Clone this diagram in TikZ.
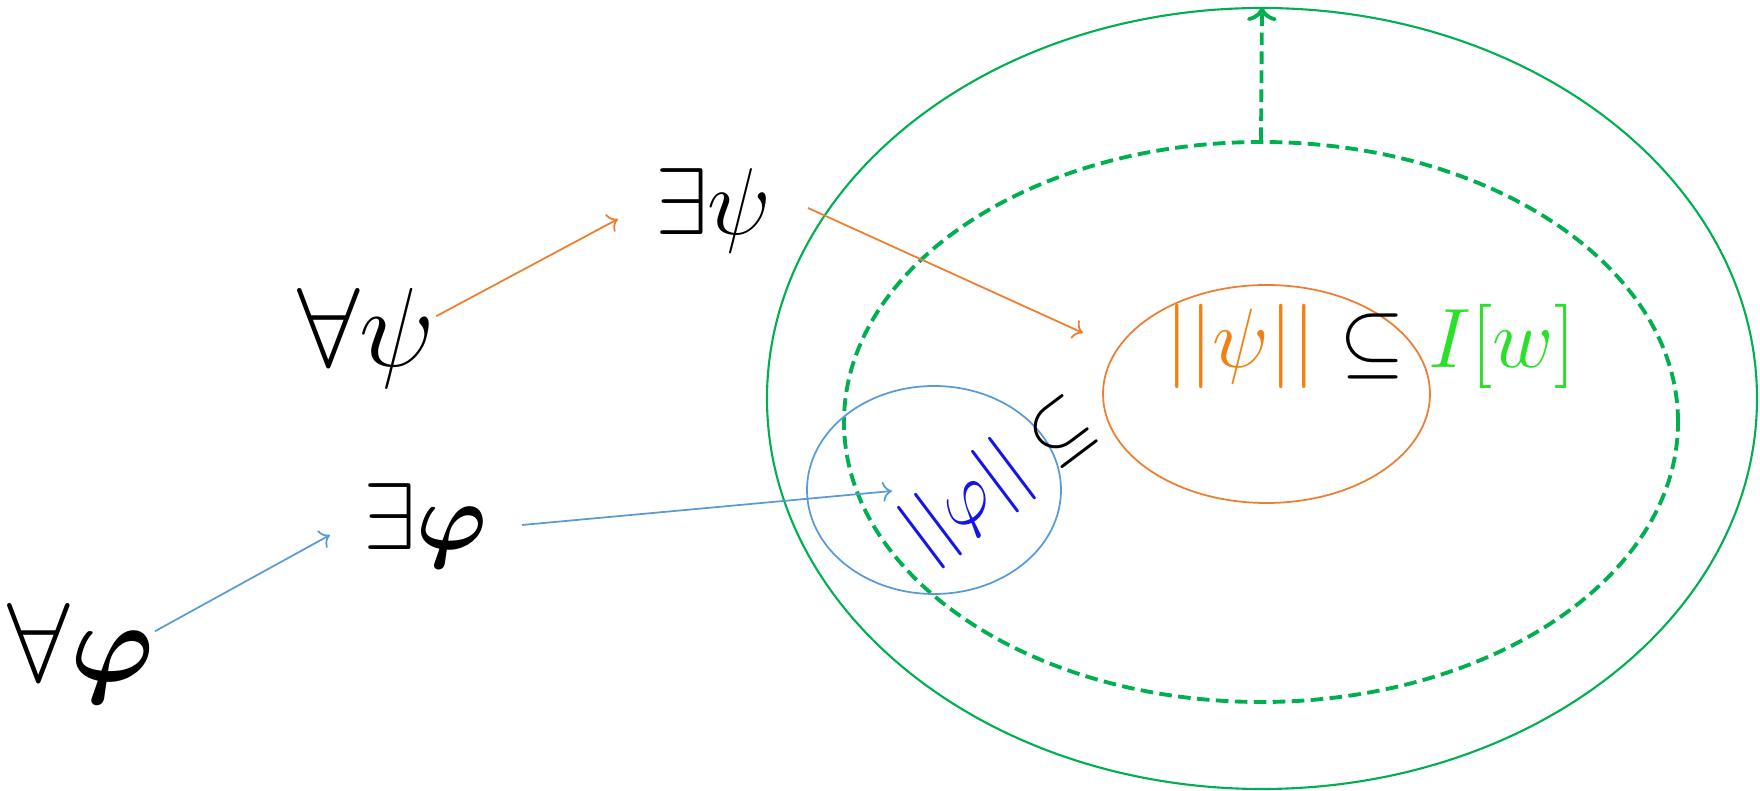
\RequirePackage{fix-cm}
\documentclass[tikz,border=0pt]{standalone}
\usepackage{amsmath}
\usepackage{xcolor}
\usepackage{tikz}
\usetikzlibrary{shapes.geometric,arrows.meta,positioning}

\definecolor{worldgreen}{RGB}{0,176,80}
\definecolor{psiorange}{RGB}{237,125,49}
\definecolor{phiblue}{RGB}{91,155,213}
\definecolor{psitext}{RGB}{240,130,20}
\definecolor{phitext}{RGB}{20,20,235}
\definecolor{wgreen}{RGB}{40,225,40}

\begin{document}
\begin{tikzpicture}[
  big/.style={inner sep=0pt, anchor=base, font=\fontsize{32}{38}\selectfont},
  mid/.style={inner sep=0pt, anchor=base, font=\fontsize{27}{32}\selectfont},
  region/.style={draw, ellipse, inner sep=0pt},
  arrowO/.style={->, draw=psiorange, line width=0.5pt},
  arrowB/.style={->, draw=phiblue, line width=0.5pt}
]
\useasboundingbox (0,0) rectangle (17.6,7.91);

% sets
\node[region, draw=worldgreen, line width=0.6pt, minimum width=9.9cm, minimum height=7.81cm] (world) at (12.62,3.925) {};
\node[region, draw=worldgreen, dashed, line width=1.1pt, dash pattern=on 3.6pt off 1.8pt, minimum width=8.34cm, minimum height=5.6cm] (frame) at (12.61,3.69) {};
\node[region, draw=psiorange, line width=0.5pt, minimum width=3.27cm, minimum height=2.18cm] (psiset) at (12.665,3.97) {};
\node[region, draw=phiblue, line width=0.5pt, minimum width=2.54cm, minimum height=2.08cm] (phiset) at (9.34,3.01) {};

\draw[->, draw=worldgreen, dashed, line width=1.1pt, dash pattern=on 3.6pt off 1.8pt] (frame.north) -- (world.north);

% formulas
\node[big] (apsi) at (3.665,4.24) {$\forall\psi$};
\node[mid] (epsi) at (7.135,5.56) {$\exists\psi$};
\node[big] (aphi) at (0.81,1.09) {$\forall\boldsymbol{\varphi}$};
\node[mid] (ephi) at (4.255,2.41) {$\exists\boldsymbol{\varphi}$};

\node[anchor=base west, inner sep=0pt, font=\fontsize{24}{29}\selectfont] (psiincl) at (11.65,4.23) {$\textcolor{psitext}{||\psi||}\subseteq\textcolor{wgreen}{I[w]}$};
\node[rotate=37, anchor=base west, inner sep=0pt, font=\fontsize{22}{26}\selectfont] (phiincl) at (9.24,2.31) {$\textcolor{phitext}{||\varphi||}\subseteq$};

% arrows
\coordinate (o1t) at (6.18,5.72);
\coordinate (o2s) at (8.08,5.83);
\coordinate (o2t) at (10.83,4.58);
\coordinate (b1t) at (3.30,2.56);
\coordinate (b2s) at (5.22,2.66);
\coordinate (b2t) at (8.92,3.00);

\draw[arrowO] (apsi.18) -- (o1t);
\draw[arrowO] (o2s) -- (o2t);
\draw[arrowB] (aphi.17) -- (b1t);
\draw[arrowB] (b2s) -- (b2t);
\end{tikzpicture}
\end{document}
